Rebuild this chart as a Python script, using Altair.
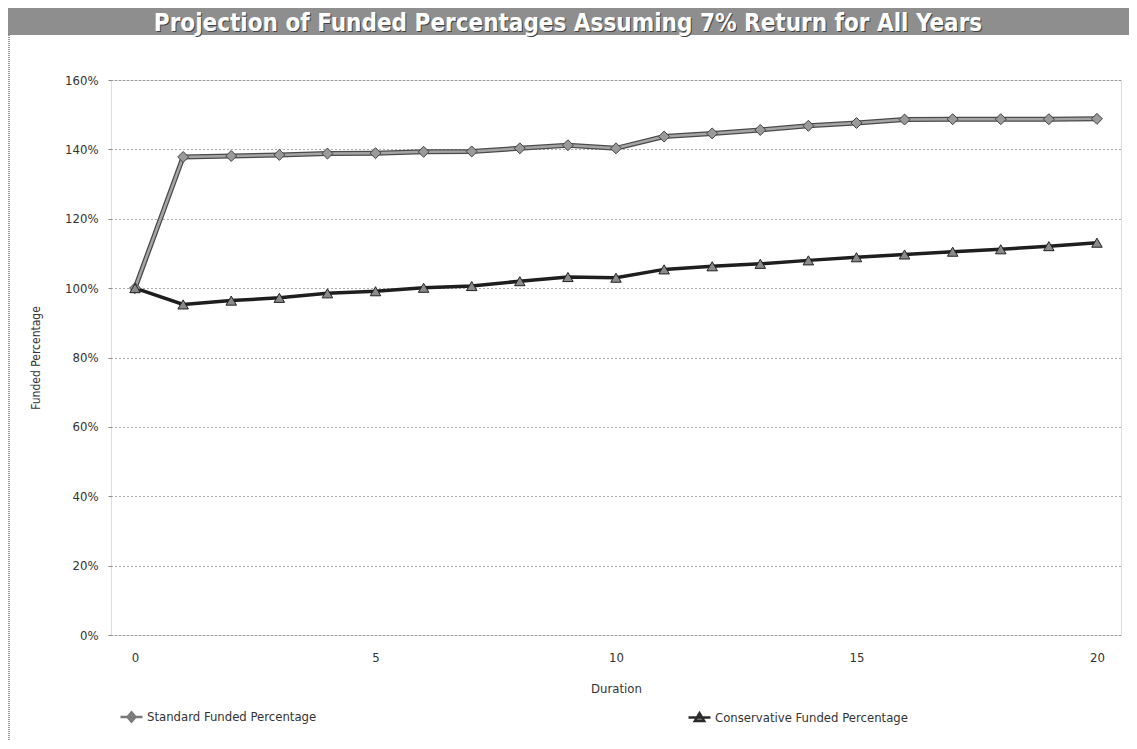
import altair as alt
import pandas as pd

years = list(range(21))
standard = [100, 137.8, 138.1, 138.4, 138.8, 138.9, 139.3, 139.4, 140.3, 141.2, 140.3,
            143.7, 144.6, 145.6, 146.8, 147.6, 148.6, 148.7, 148.7, 148.7, 148.8]
conservative = [100, 95.3, 96.4, 97.2, 98.5, 99.1, 100.1, 100.6, 102.0, 103.2, 103.0,
                105.4, 106.3, 107.0, 108.0, 108.9, 109.7, 110.5, 111.2, 112.1, 113.1]
series_names = ["Standard Funded Percentage", "Conservative Funded Percentage"]
y_ticks = [0, 20, 40, 60, 80, 100, 120, 140, 160]
x_ticks = [0, 5, 10, 15, 20]
title_text = "Projection of Funded Percentages Assuming 7% Return for All Years"

df = pd.DataFrame({
    "Duration": years * 2,
    "value": standard + conservative,
    "series": [series_names[0]] * len(years) + [series_names[1]] * len(years),
})

FONT = "DejaVu Sans Condensed, Liberation Sans Narrow, sans-serif"
W, H = 1010, 555

xscale = alt.Scale(domain=[-0.5, 20.5], nice=False, zero=False)
yscale = alt.Scale(domain=[0, 160], nice=False)

xenc = alt.X("Duration:Q", scale=xscale,
             axis=alt.Axis(values=x_ticks, title="Duration", grid=False, domain=False,
                           ticks=False, labelPadding=16, titlePadding=18,
                           labelFont=FONT, labelFontSize=13, labelColor="#333",
                           titleFont=FONT, titleFontSize=13, titleFontWeight="normal",
                           titleColor="#333"))
yenc = alt.Y("value:Q", scale=yscale,
             axis=alt.Axis(values=y_ticks, title="Funded Percentage", grid=True,
                           gridColor="#555", gridDash=[1, 3], gridWidth=1,
                           domain=False, ticks=True, tickSize=3, tickColor="#888",
                           labelExpr="datum.value + '%'", labelPadding=10,
                           labelFont=FONT, labelFontSize=13, labelColor="#333",
                           titleFont=FONT, titleFontSize=12, titleFontWeight="normal",
                           titleColor="#333", titlePadding=22))

base = alt.Chart(df)
std = base.transform_filter(alt.datum.series == series_names[0])
con = base.transform_filter(alt.datum.series == series_names[1])

std_under = std.mark_line(color="#4a4a4a", strokeWidth=5).encode(x=xenc, y=yenc)
std_over = std.mark_line(color="#a5a5a5", strokeWidth=2.5).encode(x="Duration:Q", y="value:Q")
con_line = con.mark_line(color="#1e1e1e", strokeWidth=3.5).encode(x="Duration:Q", y="value:Q")
std_pts = std.mark_point(shape="diamond", filled=True, fill="#9a9a9a", stroke="#444",
                         strokeWidth=1, size=120, opacity=1).encode(x="Duration:Q", y="value:Q")
con_pts = con.mark_point(shape="triangle-up", filled=True, fill="#8a8a8a", stroke="#222",
                         strokeWidth=1, size=110, opacity=1).encode(x="Duration:Q", y="value:Q")

path_std = "M-1,0H1M0,-0.42L0.36,0L0,0.42L-0.36,0Z"
path_con = "M-1,0H1M0,-0.4L0.42,0.3L-0.42,0.3Z"
leg_common = dict(title=None, orient="none", legendX=8, legendY=624,
                  direction="horizontal", columnPadding=366,
                  symbolSize=484, symbolFillColor="#8c8c8c",
                  symbolStrokeWidth=2.5, symbolOffset=0,
                  labelFont=FONT, labelFontSize=13, labelColor="#333",
                  labelOffset=3, labelLimit=400)
legend_layer = base.transform_filter("false").mark_point(
    filled=True, fill="#8c8c8c", strokeWidth=2.5, opacity=1
).encode(
    shape=alt.Shape("series:N", scale=alt.Scale(domain=series_names, range=[path_std, path_con]),
                    legend=alt.Legend(**leg_common)),
    stroke=alt.Stroke("series:N", scale=alt.Scale(domain=series_names, range=["#7a7a7a", "#2a2a2a"]),
                      legend=alt.Legend(**leg_common)),
)

dummy = pd.DataFrame({"k": [0]})
band = alt.Chart(dummy).mark_rect(color="#8e8e8e").encode(
    x=alt.value(-103), x2=alt.value(W + 8), y=alt.value(-72), y2=alt.value(-45))
title_shadow = alt.Chart(dummy).mark_text(
    text=title_text, font=FONT, fontSize=24, fontWeight="bold", color="#444",
    align="center", baseline="alphabetic").encode(x=alt.value(458), y=alt.value(-48.5))
title_main = alt.Chart(dummy).mark_text(
    text=title_text, font=FONT, fontSize=24, fontWeight="bold", color="#ffffff",
    align="center", baseline="alphabetic").encode(x=alt.value(457), y=alt.value(-49.5))
left_border = alt.Chart(dummy).mark_rule(color="#333", strokeDash=[1, 1], strokeWidth=1).encode(
    x=alt.value(-102), y=alt.value(-45), y2=alt.value(H + 106))

chart = alt.layer(
    band, title_shadow, title_main, left_border,
    std_under, std_over, con_line, std_pts, con_pts, legend_layer
).properties(
    width=W, height=H, padding=0
).configure_view(
    stroke="#999", strokeDash=[1, 2], strokeWidth=1
).configure(background="white")

chart.save("out.html", embed_options={"renderer": "svg", "actions": False})
